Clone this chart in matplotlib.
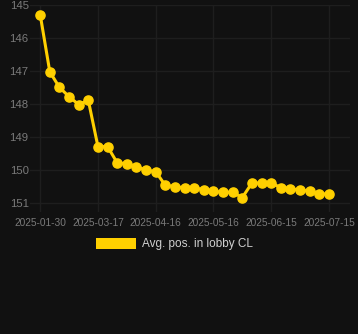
import matplotlib.pyplot as plt
from matplotlib.patches import Patch

# posición media en el lobby (eje invertido)
posicion = [145.29, 147.02, 147.49, 147.77, 148.01, 147.88, 149.28, 149.28,
            149.77, 149.80, 149.89, 149.99, 150.04, 150.45, 150.49, 150.53,
            150.53, 150.58, 150.63, 150.66, 150.66, 150.82, 150.38, 150.38,
            150.38, 150.52, 150.55, 150.60, 150.62, 150.70, 150.72]
etiquetas_x = ['2025-01-30', '2025-03-17', '2025-04-16', '2025-05-16',
               '2025-06-15', '2025-07-15']
pos_etiquetas = [0, 6, 12, 18, 24, 30]
ticks_y = [145, 146, 147, 148, 149, 150, 151]

fondo = '#111111'
amarillo = '#FFD000'
plt.rcParams['font.family'] = ['Liberation Sans', 'DejaVu Sans']

fig = plt.figure(figsize=(3.58, 3.34), dpi=100, facecolor=fondo)
ax = fig.add_axes([0.084, 0.365, 0.894, 0.62], facecolor=fondo)

x = list(range(len(posicion)))
ax.plot(x, posicion, color=amarillo, lw=2.2, marker='o', ms=6.6,
        solid_joinstyle='round', zorder=3)

ax.set_xlim(-1.05, 32.2)
ax.set_ylim(151.26, 145)
ax.set_xticks(pos_etiquetas, etiquetas_x)
ax.set_yticks(ticks_y)
ax.grid(True, color='#1e1e1e', lw=1)
ax.tick_params(axis='x', labelcolor='#7a7a7a', labelsize=7.3,
               length=0, pad=4)
ax.tick_params(axis='y', labelcolor='#7a7a7a', labelsize=8.2,
               length=0, pad=1)
for s in ax.spines.values():
    s.set_visible(False)

fig.legend(handles=[Patch(facecolor=amarillo, edgecolor='none',
                          label='Avg. pos. in lobby CL')],
           loc='center', bbox_to_anchor=(0.486, 0.269), frameon=False,
           fontsize=8.5, labelcolor='#d0d0d0', handlelength=3.4,
           handleheight=1.0, handletextpad=0.5)

fig.savefig('out.png', dpi=100, facecolor=fondo)
